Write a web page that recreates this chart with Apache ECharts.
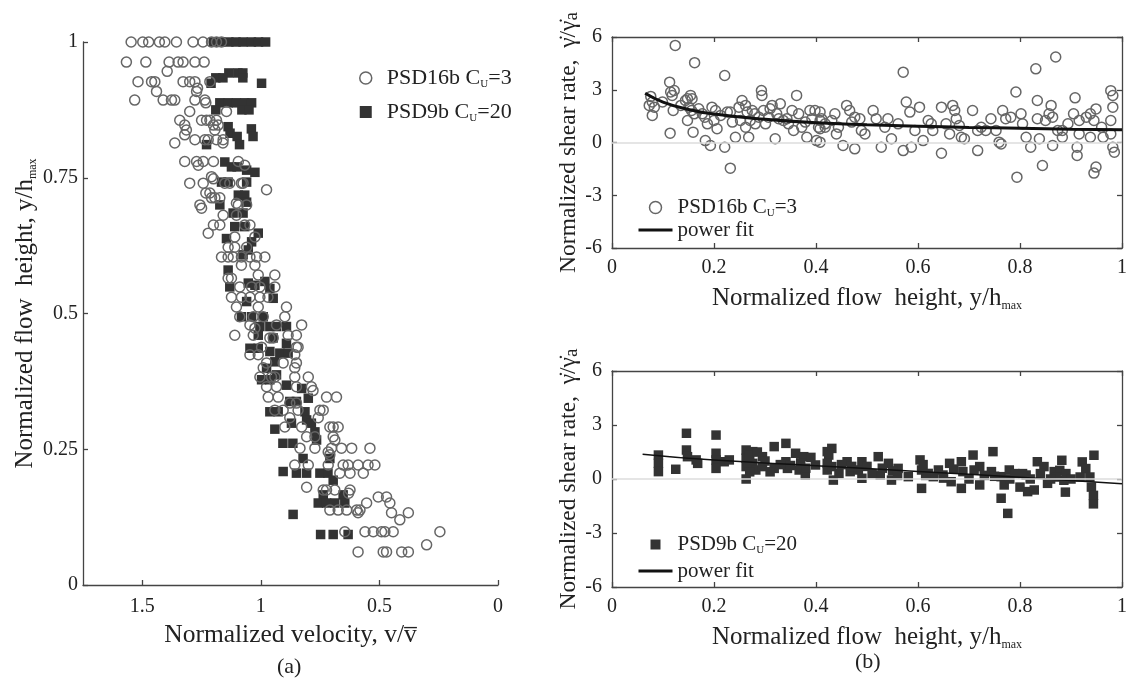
<!DOCTYPE html>
<html>
<head>
<meta charset="utf-8">
<script src="https://cdn.jsdelivr.net/npm/echarts@6/dist/echarts.min.js"></script>
<style>
  html, body { margin: 0; padding: 0; background: #fff; }
  #chart { width: 1130px; height: 685px; }
</style>
</head>
<body>
<div id="chart"></div>
<script>
// (a) velocity profile: [normalized velocity, normalized height]
const psd16Vel = [
  [1.547,1],[1.498,1],[1.473,1],[1.428,1],[1.405,1],[1.356,1],[1.286,1],[1.244,1],[1.208,1],[1.187,1],[1.166,1],
  [1.567,0.963],[1.485,0.963],[1.387,0.963],[1.349,0.963],[1.328,0.963],[1.278,0.963],[1.239,0.963],[1.395,0.946],
  [1.518,0.927],[1.461,0.927],[1.447,0.927],[1.328,0.927],[1.300,0.927],[1.278,0.927],[1.215,0.927],
  [1.44,0.909],[1.271,0.909],[1.267,0.915],
  [1.532,0.893],[1.412,0.893],[1.377,0.893],[1.363,0.893],[1.278,0.893],[1.236,0.893],[1.232,0.888],
  [1.300,0.872],[1.145,0.872],
  [1.342,0.856],[1.25,0.856],[1.229,0.856],[1.215,0.856],[1.187,0.856],
  [1.321,0.847],[1.2,0.847],[1.18,0.847],[1.314,0.838],[1.194,0.838],[1.321,0.829],
  [1.278,0.82],[1.236,0.82],[1.222,0.82],[1.187,0.82],[1.159,0.82],[1.363,0.814],[1.16,0.814],
  [1.321,0.78],[1.271,0.78],[1.243,0.78],[1.2,0.78],[1.095,0.78],[1.264,0.773],[1.068,0.773],
  [1.208,0.752],[1.2,0.748],
  [1.3,0.74],[1.243,0.74],[1.152,0.74],[1.131,0.74],[1.082,0.74],[1.075,0.74],[0.976,0.728],
  [1.232,0.722],[1.215,0.722],[1.208,0.713],[1.194,0.713],[1.173,0.713],
  [1.257,0.7],[1.095,0.7],[1.06,0.7],[1.25,0.694],[1.103,0.703],
  [1.159,0.681],[1.103,0.681],[1.2,0.663],[1.173,0.663],[1.068,0.663],[1.046,0.663],
  [1.222,0.648],[1.11,0.641],[1.025,0.641],
  [1.138,0.622],[1.11,0.622],[1.06,0.622],
  [1.166,0.604],[1.138,0.604],[1.117,0.604],[1.082,0.604],[1.046,0.604],[1.018,0.604],[0.983,0.604],
  [1.082,0.589],[1.025,0.589],[1.011,0.571],[0.941,0.571],[1.138,0.565],[1.124,0.565],
  [1.089,0.549],[1.039,0.549],[1.004,0.549],[0.941,0.549],
  [1.124,0.53],[1.082,0.53],[1.046,0.53],[1.004,0.53],[0.97,0.53],
  [1.103,0.512],[1.011,0.512],[0.892,0.512],
  [1.089,0.494],[1.032,0.494],[0.99,0.494],[0.899,0.494],
  [1.046,0.479],[0.934,0.479],[0.828,0.479],[1.025,0.473],
  [1.11,0.46],[1.032,0.46],[0.885,0.46],[0.85,0.46],[0.962,0.455],[0.948,0.455],
  [0.997,0.438],[0.85,0.438],[0.843,0.438],
  [1.046,0.424],[1.011,0.424],[0.857,0.424],
  [0.976,0.409],[0.906,0.409],[0.85,0.409],[0.99,0.4],[0.857,0.4],
  [1.004,0.383],[0.941,0.383],[0.8,0.383],[0.955,0.383],[0.857,0.383],
  [0.976,0.365],[0.934,0.365],[0.85,0.365],[0.787,0.365],[0.78,0.358],
  [0.969,0.346],[0.927,0.346],[0.723,0.346],[0.681,0.346],
  [0.878,0.335],[0.85,0.335],
  [0.941,0.322],[0.906,0.322],[0.843,0.322],[0.751,0.322],[0.737,0.322],
  [0.878,0.308],[0.758,0.308],
  [0.899,0.291],[0.828,0.291],[0.709,0.291],[0.695,0.291],[0.674,0.291],
  [0.807,0.273],[0.772,0.273],[0.695,0.273],[0.688,0.267],
  [0.835,0.252],[0.772,0.252],[0.702,0.252],[0.66,0.252],[0.617,0.252],[0.54,0.252],[0.716,0.245],[0.709,0.24],
  [0.857,0.221],[0.8,0.221],[0.716,0.221],[0.653,0.221],[0.632,0.221],[0.59,0.221],[0.548,0.221],[0.519,0.221],
  [0.667,0.206],[0.624,0.206],[0.568,0.206],
  [0.807,0.18],[0.737,0.175],[0.723,0.175],[0.688,0.175],[0.624,0.175],[0.63,0.169],
  [0.505,0.162],[0.47,0.162],[0.554,0.151],[0.456,0.151],
  [0.709,0.138],[0.674,0.138],[0.638,0.138],[0.596,0.138],[0.582,0.138],
  [0.59,0.133],[0.449,0.133],[0.378,0.133],[0.414,0.12],
  [0.646,0.098],[0.561,0.098],[0.526,0.098],[0.491,0.098],[0.477,0.098],[0.442,0.098],[0.245,0.098],
  [0.301,0.074],
  [0.59,0.061],[0.484,0.061],[0.47,0.061],[0.406,0.061],[0.378,0.061]
];

const psd9Vel = [
  [1.2,1],[1.17,1],[1.135,1],[1.105,1],[1.075,1],[1.04,1],[1.01,1],[0.98,1],
  [1.135,0.943],[1.097,0.943],[1.076,0.943],[1.19,0.934],[1.16,0.934],[1.076,0.934],[1.21,0.924],[0.997,0.924],
  [1.173,0.888],[1.138,0.888],[1.103,0.888],[1.068,0.888],[1.039,0.888],[1.19,0.875],[1.08,0.875],[1.05,0.875],
  [1.138,0.844],[1.13,0.832],[1.1,0.826],[1.09,0.811],[1.04,0.84],[1.033,0.826],[1.229,0.811],
  [1.152,0.779],[1.124,0.77],[1.1,0.77],[1.06,0.764],[1.025,0.76],
  [1.166,0.742],[1.138,0.742],[1.06,0.742],[1.095,0.718],[1.068,0.718],[1.06,0.705],
  [1.173,0.7],[1.117,0.685],[1.075,0.685],[1.11,0.66],[1.068,0.66],[1.011,0.648],[1.145,0.638],[1.039,0.632],
  [1.053,0.617],[1.075,0.608],[1.138,0.58],[1.131,0.549],[1.053,0.556],[1.025,0.552],[0.983,0.559],[0.962,0.546],
  [0.948,0.528],[1.06,0.522],[1.082,0.494],[1.039,0.494],[0.99,0.494],[1.004,0.476],[0.962,0.476],[0.934,0.476],[0.892,0.476],
  [1.011,0.46],[0.948,0.455],[1.046,0.436],[1.011,0.436],[0.962,0.43],[0.92,0.427],[0.885,0.427],[0.892,0.445],
  [0.941,0.411],[0.976,0.399],[0.934,0.387],
  [0.997,0.378],[0.962,0.378],[0.892,0.368],[0.828,0.362],[0.8,0.344],[0.878,0.338],[0.85,0.338],
  [0.962,0.319],[0.927,0.319],[0.814,0.319],[0.807,0.304],[0.871,0.298],[0.787,0.298],[0.772,0.282],[0.765,0.267],
  [0.941,0.287],[0.907,0.261],[0.865,0.261],[0.822,0.233],[0.709,0.233],
  [0.906,0.209],[0.85,0.206],[0.807,0.206],[0.751,0.206],[0.717,0.206],[0.695,0.193],
  [0.737,0.166],[0.653,0.166],[0.758,0.151],[0.723,0.151],[0.688,0.151],[0.646,0.151],
  [0.864,0.13],[0.748,0.093],[0.695,0.093],[0.632,0.093]
];

// (b) shear rate vs height: [normalized height, normalized shear rate]
const psd16Rate = [
  [0.076,2.62],[0.079,2.30],[0.073,2.11],[0.083,2.01],[0.079,1.54],[0.099,2.30],[0.113,3.43],[0.115,2.87],
  [0.118,2.68],[0.122,2.96],[0.114,0.53],[0.124,5.52],[0.120,1.82],[0.135,2.11],[0.144,2.39],[0.148,2.49],
  [0.154,2.68],[0.157,2.49],[0.151,2.01],[0.148,1.25],[0.156,1.82],[0.161,1.63],[0.159,0.59],[0.162,4.54],
  [0.170,1.92],[0.177,1.63],[0.182,1.44],[0.187,1.06],[0.183,0.11],[0.193,-0.17],[0.196,2.01],[0.203,1.82],
  [0.200,1.25],[0.206,0.78],[0.213,1.54],[0.221,3.81],[0.221,-0.27],[0.226,1.73],[0.232,1.73],[0.236,1.16],
  [0.232,-1.46],[0.242,0.30],[0.249,2.01],[0.252,1.25],[0.255,2.39],[0.262,2.11],[0.265,1.73],[0.262,0.87],
  [0.268,0.30],[0.271,1.25],[0.275,1.82],[0.280,1.63],[0.281,1.06],[0.288,1.44],[0.293,2.96],[0.294,2.68],
  [0.297,1.82],[0.301,1.06],[0.307,1.44],[0.310,1.92],[0.314,2.11],[0.320,0.21],[0.323,1.63],[0.327,1.35],
  [0.330,2.20],[0.336,1.25],[0.343,1.35],[0.346,1.06],[0.353,1.82],[0.356,0.68],[0.362,2.68],[0.366,1.63],
  [0.372,0.87],[0.379,1.16],[0.382,0.30],[0.388,1.82],[0.392,1.35],[0.398,1.82],[0.401,0.11],[0.405,0.87],
  [0.408,1.25],[0.418,0.87],
  [0.408,1.73],[0.411,1.35],[0.408,0.78],[0.408,0.02],[0.418,1.06],[0.431,1.25],[0.437,1.63],[0.440,0.49],
  [0.444,0.87],[0.453,-0.17],[0.460,2.11],[0.466,1.82],[0.470,1.16],[0.476,1.44],[0.476,-0.36],[0.486,1.35],
  [0.489,0.68],[0.496,0.49],[0.512,1.82],[0.518,1.35],[0.528,-0.27],[0.535,0.87],[0.541,1.35],[0.548,0.21],
  [0.561,1.06],[0.571,4.00],[0.571,-0.46],[0.577,2.30],[0.584,1.73],[0.587,-0.27],[0.594,0.68],[0.603,2.01],
  [0.610,0.11],[0.620,1.25],[0.626,1.06],[0.629,0.68],[0.646,2.01],[0.646,-0.61],[0.655,1.06],[0.662,0.49],
  [0.668,2.11],[0.672,1.82],[0.675,1.35],[0.681,0.97],[0.685,0.30],[0.691,0.21],[0.707,1.82],[0.717,0.68],
  [0.717,-0.46],[0.724,0.87],[0.733,0.68],[0.743,1.35],[0.753,0.68],[0.759,0.02],[0.763,-0.08],[0.766,1.82],
  [0.772,1.35],[0.782,1.44],[0.792,2.87],[0.794,-1.97],[0.802,1.63],[0.805,1.06],[0.812,0.30],[0.821,-0.27],
  [0.831,4.19],[0.834,2.39],[0.834,1.35],[0.838,0.21],[0.844,-1.31],[0.861,2.11],[0.864,1.44],[0.864,-0.17],
  [0.870,4.86],[0.874,0.68],
  [0.908,2.54],[0.905,1.63],[0.916,1.25],[0.912,-0.27],[0.912,-0.74],[0.916,0.49],[0.930,1.44],[0.938,1.63],
  [0.945,1.25],[0.949,1.91],[0.945,-1.74],[0.949,-1.40],[0.938,0.30],[0.960,0.87],[0.963,0.30],[0.978,2.95],
  [0.982,2.67],[0.982,2.01],[0.978,1.25],[0.982,-0.27],[0.985,-0.55],[0.978,0.49],[0.883,0.68],[0.894,1.06],
  [0.883,0.30],[0.850,1.25],[0.857,1.63]
];

const psd9Rate = [
  [0.091,1.33],[0.091,0.87],[0.091,0.41],[0.125,0.54],[0.146,2.54],[0.146,1.61],[0.148,1.24],[0.165,1.06],
  [0.168,0.87],[0.204,2.44],[0.204,1.43],[0.204,1.06],[0.204,0.59],[0.220,0.96],[0.230,1.06],[0.263,1.61],
  [0.263,1.15],[0.263,0.69],[0.263,0.0],[0.276,1.52],[0.276,0.87],[0.282,0.50],[0.295,1.24],[0.295,0.69],
  [0.318,1.80],[0.318,0.59],[0.341,1.98],[0.341,0.96],[0.344,0.59],[0.360,1.43],[0.367,0.50],[0.376,1.24],
  [0.379,0.22],[0.399,0.78],[0.422,1.52],[0.422,0.50],
  [0.431,1.70],[0.425,1.33],[0.431,0.69],[0.434,-0.06],[0.422,0.87],[0.461,0.96],[0.467,0.41],[0.490,0.96],
  [0.490,0.04],[0.483,0.50],[0.522,1.24],[0.526,0.22],[0.542,0.87],[0.548,-0.06],[0.561,0.59],[0.581,0.13],
  [0.604,1.06],[0.607,0.50],[0.607,-0.52],[0.620,0.31],[0.630,0.13],[0.640,0.50],[0.649,0.22],[0.662,0.87],
  [0.665,-0.15],[0.685,0.96],[0.688,0.41],[0.685,-0.52],[0.708,1.33],[0.721,0.69],[0.721,-0.33],[0.747,1.52],
  [0.744,0.41],[0.763,0.13],[0.763,-1.07],[0.779,0.50],[0.769,-0.33],[0.776,-1.91],[0.812,0.22],[0.815,-0.70],
  [0.828,-0.61],[0.834,0.96],[0.847,0.69],[0.854,-0.24],[0.867,0.41],
  [0.882,1.04],[0.878,0.48],[0.886,-0.07],[0.889,-0.73],[0.871,0.11],[0.922,0.95],[0.929,0.58],[0.918,0.11],
  [0.937,0.11],[0.940,-0.45],[0.944,-0.91],[0.944,-1.38],[0.945,1.32],[0.805,0.30],[0.800,-0.45],
  [0.270,1.30],[0.270,0.40],[0.285,1.50],[0.300,1.00],[0.310,0.40],[0.330,0.80],[0.350,0.75],[0.370,0.90],
  [0.380,0.60],[0.390,1.20],[0.445,0.30],[0.450,0.80],[0.470,0.70],[0.500,0.70],[0.510,0.30],[0.530,0.60],
  [0.550,0.45],[0.560,0.20],[0.610,0.80],[0.615,0.20],[0.650,0.05],[0.670,0.55],[0.700,0.00],[0.710,0.50],
  [0.730,0.20],[0.750,0.15],[0.780,0.00],[0.790,0.30],[0.820,0.00],[0.840,0.30],[0.860,0.00],[0.890,0.30],
  [0.900,0.00]
];

// power fits
const fitTopX = [0.065, 0.1, 0.15, 0.2, 0.3, 0.4, 0.5, 0.6, 0.7, 0.8, 0.9, 1.0];
const fitTopY = [2.8, 2.3, 1.88, 1.62, 1.32, 1.12, 1.01, 0.93, 0.86, 0.81, 0.76, 0.72];
const fitBotX = [0.06, 0.2, 0.4, 0.6, 0.8, 1.0];
const fitBotY = [1.38, 1.05, 0.74, 0.42, 0.1, -0.27];

const legendText = {
  a16: '{p|PSD16b C}{s|U}{t|=3}',
  a9: '{p|PSD9b C}{s|U}{t|=20}',
  b16: '{t|PSD16b C}{s|U}{t|=3}',
  c9: '{t|PSD9b C}{s|U}{t|=20}',
  fitA: '{t|power fit}',
  fitB: '{t|power fit}'
};

const FONT = 'Liberation Serif';
const INK = '#222';
const AXIS = '#444';
const SQUARE = 'path://M0,0L10,0L10,10L0,10Z';

const zip = (xs, ys) => xs.map((x, i) => [x, ys[i]]);

function legendRich(size, lh, lead) {
  return {
    t: { fontFamily: FONT, fontSize: size, color: INK, lineHeight: lh },
    p: { fontFamily: FONT, fontSize: size, color: INK, lineHeight: lh, padding: [0, 0, 0, lead || 0] },
    s: { fontFamily: FONT, fontSize: Math.round(size * 0.5), color: INK, lineHeight: Math.round(size * 0.5), verticalAlign: 'bottom' }
  };
}

function nameRich(size, subSize) {
  return {
    t: { fontFamily: FONT, fontSize: size, color: INK, lineHeight: size + 2 },
    s: { fontFamily: FONT, fontSize: subSize, color: INK, lineHeight: subSize, verticalAlign: 'bottom' }
  };
}

const tickLabel = (margin) => ({ fontFamily: FONT, fontSize: 20, color: INK, margin: margin });
const axLine = { show: true, onZero: false, lineStyle: { color: AXIS, width: 1.3 } };
const axTick = { show: true, inside: true, length: 5, lineStyle: { color: AXIS, width: 1.3 } };

function boxAxes(gridIndex) {
  const rateName = '{t|Normalized shear rate,  \u03B3\u0307/\u03B3\u0307}{s|a}';
  const heightName = '{t|Normalized flow  height, y/h}{s|max}';
  return {
    x: [
      { type: 'value', gridIndex, min: 0, max: 1, interval: 0.2, axisLine: axLine, axisTick: axTick,
        axisLabel: tickLabel(10), splitLine: { show: false },
        name: heightName, nameLocation: 'middle', nameGap: 37, nameTextStyle: { rich: nameRich(25, 12) } },
      { type: 'value', gridIndex, position: 'top', min: 0, max: 1, interval: 0.2, axisLine: axLine,
        axisTick: axTick, axisLabel: { show: false }, splitLine: { show: false } }
    ],
    y: [
      { type: 'value', gridIndex, min: -6, max: 6, interval: 3, axisLine: axLine, axisTick: axTick,
        axisLabel: tickLabel(10), splitLine: { show: false },
        name: rateName, nameLocation: 'middle', nameGap: 25, nameTextStyle: { rich: nameRich(23.5, 19) } },
      { type: 'value', gridIndex, position: 'right', min: -6, max: 6, interval: 3, axisLine: axLine,
        axisTick: axTick, axisLabel: { show: false }, splitLine: { show: false } }
    ]
  };
}

const axTop = boxAxes(1);
const axBot = boxAxes(2);

const hollow = { color: 'rgba(255,255,255,0)', borderColor: '#666', borderWidth: 1.5, opacity: 1 };
const filled = { color: '#333', opacity: 1 };
const zeroLine = {
  silent: true, symbol: 'none', label: { show: false },
  lineStyle: { color: '#ddd', width: 1.5, type: 'solid' },
  data: [{ yAxis: 0 }]
};

const option = {
  animation: false,
  backgroundColor: '#fff',
  grid: [
    { left: 83, top: 42, width: 415, height: 543 },
    { left: 612, top: 37, width: 513, height: 211 },
    { left: 612, top: 371, width: 513, height: 216 }
  ],
  xAxis: [
    { type: 'value', gridIndex: 0, min: 0, max: 1.75, interval: 0.5, inverse: true,
      axisLine: axLine, axisTick: axTick, axisLabel: Object.assign(tickLabel(12), { showMaxLabel: false }),
      splitLine: { show: false },
      name: '{t|Normalized velocity, v/v\u0305}', nameLocation: 'middle', nameGap: 35,
      nameTextStyle: { rich: nameRich(25.5, 12) } },
    axTop.x[0], axTop.x[1], axBot.x[0], axBot.x[1]
  ],
  yAxis: [
    { type: 'value', gridIndex: 0, min: 0, max: 1, interval: 0.25,
      axisLine: axLine, axisTick: axTick, axisLabel: tickLabel(5), splitLine: { show: false },
      name: '{t|Normalized flow  height, y/h}{s|max}', nameLocation: 'middle', nameGap: 38,
      nameTextStyle: { rich: nameRich(25, 12) } },
    axTop.y[0], axTop.y[1], axBot.y[0], axBot.y[1]
  ],
  legend: [
    { orient: 'vertical', left: 359, top: 67, padding: 0, itemWidth: 12, itemHeight: 12, itemGap: 11,
      data: [
        { name: 'a16', icon: 'circle', itemStyle: hollow },
        { name: 'a9', icon: SQUARE, itemStyle: filled }
      ],
      formatter: n => legendText[n], textStyle: { rich: legendRich(22, 24, 10) } },
    { orient: 'vertical', left: 637, top: 197, padding: 0, itemWidth: 34, itemHeight: 12, itemGap: 1,
      data: [
        { name: 'b16', icon: 'circle', itemStyle: hollow },
        { name: 'fitA', lineStyle: { width: 3, color: '#111' }, itemStyle: { opacity: 0 } }
      ],
      formatter: n => legendText[n], textStyle: { rich: legendRich(21, 22) } },
    { orient: 'vertical', left: 637, top: 534, padding: 0, itemWidth: 34, itemHeight: 10, itemGap: 5,
      data: [
        { name: 'c9', icon: SQUARE, itemStyle: filled },
        { name: 'fitB', lineStyle: { width: 3, color: '#111' }, itemStyle: { opacity: 0 } }
      ],
      formatter: n => legendText[n], textStyle: { rich: legendRich(21, 22) } }
  ],
  graphic: [
    { type: 'text', left: 277, top: 656, style: { text: '(a)', font: '22px "Liberation Serif"', fill: INK } },
    { type: 'text', left: 855, top: 651, style: { text: '(b)', font: '22px "Liberation Serif"', fill: INK } }
  ],
  series: [
    { type: 'scatter', name: 'a9', xAxisIndex: 0, yAxisIndex: 0, data: psd9Vel,
      symbol: 'rect', symbolSize: 9.5, itemStyle: filled },
    { type: 'scatter', name: 'a16', xAxisIndex: 0, yAxisIndex: 0, data: psd16Vel,
      symbol: 'circle', symbolSize: 10, itemStyle: hollow },
    { type: 'scatter', name: 'b16', xAxisIndex: 1, yAxisIndex: 1, data: psd16Rate,
      symbol: 'circle', symbolSize: 10, itemStyle: hollow, markLine: zeroLine, z: 3 },
    { type: 'line', name: 'fitA', xAxisIndex: 1, yAxisIndex: 1, data: zip(fitTopX, fitTopY),
      smooth: true, symbol: 'none', itemStyle: { color: '#111' }, lineStyle: { color: '#111', width: 3 }, z: 4 },
    { type: 'scatter', name: 'c9', xAxisIndex: 3, yAxisIndex: 3, data: psd9Rate,
      symbol: 'rect', symbolSize: 9.5, itemStyle: filled, markLine: zeroLine, z: 3 },
    { type: 'line', name: 'fitB', xAxisIndex: 3, yAxisIndex: 3, data: zip(fitBotX, fitBotY),
      smooth: true, symbol: 'none', itemStyle: { color: '#111' }, lineStyle: { color: '#111', width: 1.5 }, z: 4 }
  ]
};

const chart = echarts.init(document.getElementById('chart'));
chart.setOption(option);
</script>
</body>
</html>
